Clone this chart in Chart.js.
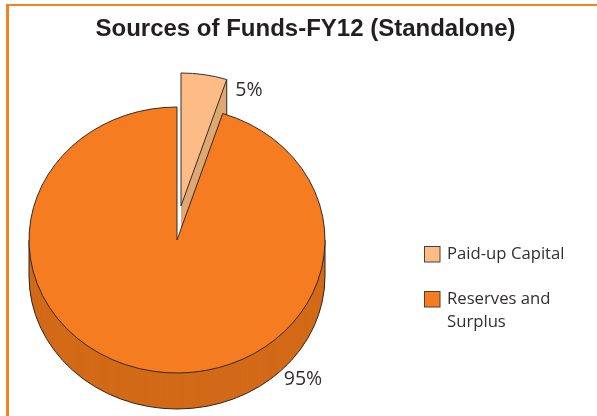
<!DOCTYPE html>
<html lang="en">
<head>
<meta charset="UTF-8">
<title>Sources of Funds-FY12 (Standalone)</title>
<script src="https://cdn.jsdelivr.net/npm/chart.js@4.4.2/dist/chart.umd.min.js"></script>
<style>
    html, body { margin: 0; padding: 0; background: #fff; }
    #wrap { position: relative; width: 597px; height: 416px; }
</style>
</head>
<body>
<div id="wrap"><canvas id="funds" width="597" height="416"></canvas></div>
<script>
const chartTitle = 'Sources of Funds-FY12 (Standalone)';
const categories = ['Paid-up Capital', ['Reserves and', 'Surplus']];
const shares = [5, 95];
const topColors = ['#FDBC85', '#F57C20'];
const wallColors = ['#DDA873', '#D26A18'];

const LINE = '#2b2523';
const TEXT = '#332e2f';
const FRAME = '#F58220';
const LEGEND_FONT = '16.7px "Open Sans", sans-serif';
const PERCENT_FONT = '19.5px "Open Sans", sans-serif';

// pie geometry on the page: flattened disc with a thick rim, first slice pulled out
const CX = 177, CY = 240, RX = 148, RY = 133, DEPTH = 36;
const pulled = [{ x: 4, y: -34 }, { x: 0, y: 0 }];
const labelSpots = [{ x: 249, y: 90 }, { x: 303, y: 379 }];

function place(ctx, el, i, drop) {
    ctx.translate(CX + pulled[i].x, CY + pulled[i].y + drop);
    ctx.scale(1, RY / RX);
    ctx.translate(-el.x, -el.y);
}

// dark outline of the rim: bottom arc of the wall and the vertical edges
function strokeRim(ctx, el, i) {
    const r = el.outerRadius;
    const from = Math.max(el.startAngle, 0);
    const to = Math.min(el.endAngle, Math.PI);
    const edges = [];
    if (from < to) {
        ctx.save();
        place(ctx, el, i, DEPTH);
        ctx.beginPath();
        ctx.arc(el.x, el.y, r, from, to);
        ctx.restore();
        ctx.stroke();
        edges.push(from, to);
    } else {
        edges.push(el.endAngle);
    }
    edges.forEach(a => {
        ctx.save();
        place(ctx, el, i, 0);
        ctx.beginPath();
        const x = el.x + Math.cos(a) * r;
        const y = el.y + Math.sin(a) * r;
        ctx.moveTo(x, y);
        ctx.lineTo(x, y + DEPTH * RX / RY);
        ctx.restore();
        ctx.stroke();
    });
}

// draws the arcs through ArcElement but squashed and extruded
const discPlugin = {
    id: 'disc',
    beforeDraw(chart) {
        const ctx = chart.ctx;
        ctx.save();
        ctx.fillStyle = FRAME;
        ctx.fillRect(6, 4, 591, 2);
        ctx.fillRect(6, 4, 3, 412);
        ctx.restore();
    },
    beforeDatasetDraw(chart) {
        const ctx = chart.ctx;
        chart.getDatasetMeta(0).data.forEach((el, i) => {
            const base = el.options;

            el.options = Object.assign({}, base, { backgroundColor: wallColors[i], borderWidth: 0 });
            for (let d = DEPTH; d > 0; d--) {
                ctx.save();
                place(ctx, el, i, d);
                el.draw(ctx);
                ctx.restore();
            }
            ctx.save();
            ctx.strokeStyle = LINE;
            ctx.lineWidth = 1;
            strokeRim(ctx, el, i);
            ctx.restore();

            el.options = base;
            ctx.save();
            place(ctx, el, i, 0);
            el.draw(ctx);
            ctx.restore();
        });
        return false;
    },
    afterDraw(chart) {
        const ctx = chart.ctx;
        ctx.save();
        ctx.font = PERCENT_FONT;
        ctx.fillStyle = TEXT;
        ctx.textBaseline = 'middle';
        ctx.textAlign = 'center';
        shares.forEach((v, i) => ctx.fillText(v + '%', labelSpots[i].x, labelSpots[i].y));

        ctx.font = LEGEND_FONT;
        ctx.textAlign = 'left';
        let y = 254;
        categories.forEach((c, i) => {
            const lines = [].concat(c);
            ctx.fillStyle = topColors[i];
            ctx.fillRect(424.5, y - 7.5, 15.5, 15.5);
            ctx.strokeStyle = '#4a4038';
            ctx.lineWidth = 1;
            ctx.strokeRect(424.5, y - 7.5, 15.5, 15.5);
            ctx.fillStyle = TEXT;
            lines.forEach((t, j) => ctx.fillText(t, 447, y + j * 23));
            y += 45;
        });
        ctx.restore();
    }
};

new Chart(document.getElementById('funds'), {
    type: 'pie',
    data: {
        labels: categories,
        datasets: [{
            data: shares,
            backgroundColor: topColors,
            borderColor: LINE,
            borderWidth: 1,
            borderAlign: 'center',
            radius: RX
        }]
    },
    options: {
        responsive: false,
        animation: false,
        radius: RX,
        layout: { padding: { left: 14 } },
        plugins: {
            legend: { display: false },
            tooltip: { enabled: false },
            title: {
                display: true,
                text: chartTitle,
                color: '#231f20',
                font: { family: '"Liberation Sans", Arial, sans-serif', size: 24, weight: 'bold' },
                padding: { top: 15, bottom: 8 }
            }
        }
    },
    plugins: [discPlugin]
});
</script>
</body>
</html>
